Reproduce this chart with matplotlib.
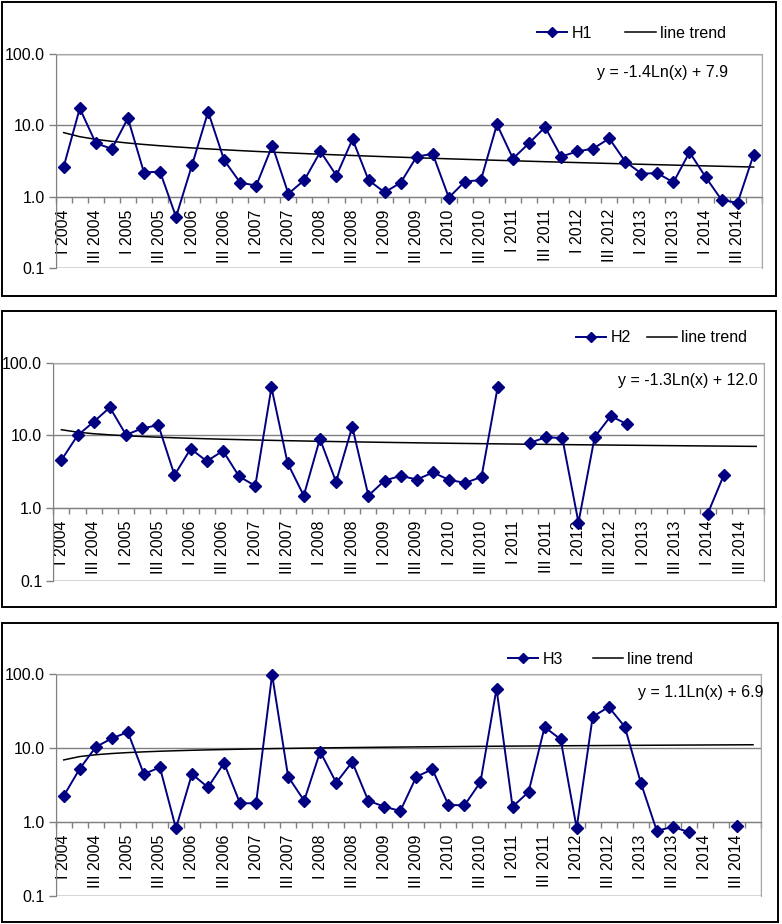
import numpy as np
import matplotlib
matplotlib.use("Agg")
from matplotlib import pyplot as plt
from matplotlib.lines import Line2D
from matplotlib.patches import Rectangle
from matplotlib.ticker import FixedLocator, FixedFormatter

plt.rcParams['font.family'] = ['Liberation Sans', 'DejaVu Sans']

nan = np.nan

# quarters 2004 Q1 .. 2014 Q4, a label every second quarter
years = list(range(2004, 2015))
quarter_labels = []
for y in years:
    quarter_labels += ['I %d' % y, 'II %d' % y, 'III %d' % y, 'IV %d' % y]
shown_labels = quarter_labels[::2]

h1 = [2.64, 17.3, 5.62, 4.68, 12.6, 2.18, 2.25, 0.52, 2.79, 15.5, 3.24, 1.57,
      1.43, 5.21, 1.10, 1.71, 4.30, 1.97, 6.40, 1.70, 1.15, 1.57, 3.65, 3.98,
      0.97, 1.63, 1.71, 10.3, 3.42, 5.62, 9.44, 3.65, 4.30, 4.73, 6.54, 3.10,
      2.11, 2.13, 1.59, 4.20, 1.89, 0.90, 0.82, 3.90]
h2 = [4.58, 10.0, 15.4, 24.3, 10.2, 12.5, 13.9, 2.85, 6.56, 4.43, 6.15, 2.73,
      2.03, 45.8, 4.16, 1.49, 9.00, 2.30, 13.2, 1.49, 2.40, 2.79, 2.48, 3.10,
      2.45, 2.23, 2.70, 46.2, nan, 7.93, 9.49, 9.19, 0.635, 9.49, 18.5, 14.3,
      nan, nan, nan, nan, 0.845, 2.87, nan, nan]
h3 = [2.25, 5.25, 10.3, 13.5, 16.4, 4.45, 5.48, 0.82, 4.45, 2.94, 6.27, 1.79,
      1.79, 98.0, 4.10, 1.94, 8.92, 3.40, 6.47, 1.94, 1.61, 1.41, 4.10, 5.15,
      1.70, 1.68, 3.47, 63.3, 1.61, 2.54, 19.2, 13.1, 0.83, 26.5, 35.8, 19.4,
      3.40, 0.76, 0.86, 0.73, nan, nan, 0.89, nan]

series_names = ['H1', 'H2', 'H3']
trend_a = [-1.4, -1.3, 1.1]
trend_b = [7.9, 12.0, 6.9]
equations = ['y = -1.4Ln(x) + 7.9', 'y = -1.3Ln(x) + 12.0', 'y = 1.1Ln(x) + 6.9']

W, H = 782, 924
fig = plt.figure(figsize=(W / 100, H / 100), dpi=100)

# pixel layout: panel box, plot area, legend left/centre y/column gap, equation right/centre y
boxes = [(2, 2, 776, 296), (2, 311, 776, 607), (2, 623, 778, 922)]
areas = [(55.7, 54, 761.7, 268), (53.3, 362.7, 764.3, 581), (55.7, 674, 761, 896)]
legend_pos = [(537, 33, 2.1), (576, 338, 1.0), (508, 659, 1.9)]
eq_pos = [(728, 72), (758, 381), (763, 692)]

navy = '#000080'
fs = 11.5
x = np.arange(44)

for i, data in enumerate([h1, h2, h3]):
    bx0, by0, bx1, by1 = boxes[i]
    fig.patches.append(Rectangle((bx0 / W, 1 - by1 / H), (bx1 - bx0) / W, (by1 - by0) / H,
                                 transform=fig.transFigure, fill=False,
                                 edgecolor='black', linewidth=1.4))
    l, t, r, b = areas[i]
    ax = fig.add_axes([l / W, 1 - b / H, (r - l) / W, (b - t) / H])
    ax.set_yscale('log')
    ax.set_ylim(0.1, 100)
    ax.set_xlim(-0.5, 43.5)

    for v in [0.1, 1, 10, 100]:
        ax.axhline(v, color='#808080', linewidth=1.0, zorder=1)

    vals = np.array(data, dtype=float)
    ax.plot(x, vals, color=navy, linewidth=1.4, marker='D', markersize=6,
            markerfacecolor=navy, markeredgecolor=navy, zorder=4, clip_on=False)
    trend = trend_a[i] * np.log(x + 1) + trend_b[i]
    ax.plot(x, trend, color='black', linewidth=1.1, zorder=3)

    for s in ['top', 'right']:
        ax.spines[s].set_color('#a8a8a8')
    ax.spines['left'].set_color('#808080')
    ax.spines['bottom'].set_position(('data', 1))
    ax.spines['bottom'].set_color('#808080')
    ax.add_patch(Rectangle((0, 0), 1, 1, transform=ax.transAxes, fill=False,
                           edgecolor='#a8a8a8', linewidth=1.0, zorder=0))

    ax.yaxis.set_major_locator(FixedLocator([0.1, 1, 10, 100]))
    ax.yaxis.set_major_formatter(FixedFormatter(['0.1', '1.0', '10.0', '100.0']))
    ax.yaxis.set_minor_locator(FixedLocator([]))
    ax.tick_params(axis='y', which='major', length=5, width=1, color='#808080',
                   labelsize=fs, pad=3)

    ax.xaxis.set_major_locator(FixedLocator(np.arange(-0.5, 44, 1)))
    ax.xaxis.set_major_formatter(FixedFormatter([''] * 45))
    ax.xaxis.set_minor_locator(FixedLocator(x[::2]))
    ax.xaxis.set_minor_formatter(FixedFormatter(shown_labels))
    ax.tick_params(axis='x', which='major', length=4.5, width=1, color='#808080',
                   direction='out')
    ax.tick_params(axis='x', which='minor', length=0, labelsize=fs, pad=9,
                   labelrotation=90)

    lx, ly, gap = legend_pos[i]
    handle = Line2D([], [], color=navy, linewidth=1.4, marker='D', markersize=5,
                    markerfacecolor=navy, markeredgecolor=navy)
    thandle = Line2D([], [], color='black', linewidth=1.1)
    ax.legend([handle, thandle], [series_names[i], 'line trend'], loc='center left',
              bbox_to_anchor=(lx / W, 1 - ly / H), bbox_transform=fig.transFigure,
              ncol=2, frameon=False, fontsize=fs, handlelength=1.9,
              handletextpad=0.25, columnspacing=gap, borderpad=0, borderaxespad=0)

    ex, ey = eq_pos[i]
    fig.text(ex / W, 1 - ey / H, equations[i], ha='right', va='center', fontsize=fs)

fig.savefig('out.png', dpi=100)
